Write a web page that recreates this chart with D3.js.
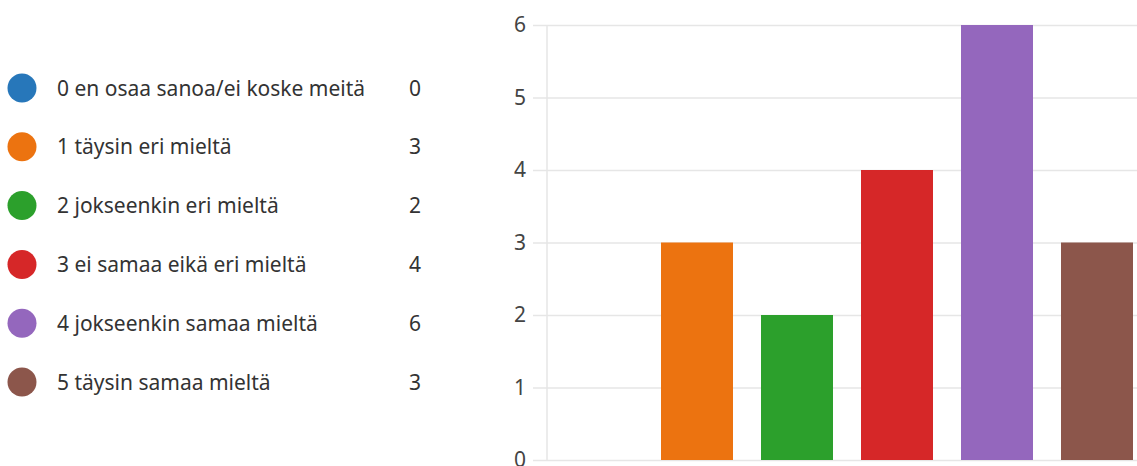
<!DOCTYPE html>
<html>
<head>
<meta charset="utf-8">
<script src="https://cdn.jsdelivr.net/npm/d3@7"></script>
<style>
  html, body { margin: 0; padding: 0; background: #fff; }
  svg { display: block; }
  text { font-family: "Segoe UI", "Noto Sans", "Open Sans", sans-serif; }
</style>
</head>
<body>
<svg id="chart" width="1137" height="466"></svg>
<script>
// Survey answers: response option, count and colour
const categories = [
  "0 en osaa sanoa/ei koske meitä",
  "1 täysin eri mieltä",
  "2 jokseenkin eri mieltä",
  "3 ei samaa eikä eri mieltä",
  "4 jokseenkin samaa mieltä",
  "5 täysin samaa mieltä"
];
const counts = [0, 3, 2, 4, 6, 3];
const colors = ["#2777ba", "#ec7310", "#2ca02c", "#d62728", "#9467bd", "#8c564b"];
const yTicks = [0, 1, 2, 3, 4, 5, 6];

const svg = d3.select("#chart");

// ---- Legend with counts ----
const legendY = d3.scalePoint().domain(categories).range([88, 382]);
const legend = svg.append("g");
const rows = legend.selectAll("g.row")
  .data(categories.map((c, i) => ({ c, v: counts[i], col: colors[i] })))
  .join("g")
  .attr("class", "row")
  .attr("transform", d => `translate(0,${legendY(d.c)})`);
rows.append("circle").attr("cx", 22).attr("cy", 0).attr("r", 14.5).attr("fill", d => d.col);
rows.append("text").attr("x", 57).attr("dy", "0.36em")
  .attr("font-size", 21).attr("fill", "#333").text(d => d.c);
rows.append("text").attr("x", 415).attr("dy", "0.36em").attr("text-anchor", "middle")
  .attr("font-size", 21).attr("fill", "#333").text(d => d.v);

// ---- Bar chart ----
const x = d3.scaleBand().domain(categories).range([547, 1147])
  .paddingInner(0.28).paddingOuter(0.14);
const y = d3.scaleLinear().domain([0, 6]).range([460, 25]);

// horizontal gridlines with tick labels
const yAxis = d3.axisLeft(y).tickValues(yTicks).tickFormat(d3.format("d"))
  .tickSize(-(1137 - 533)).tickPadding(7);
const gy = svg.append("g").attr("transform", "translate(533,0)").call(yAxis);
gy.select(".domain").remove();
gy.selectAll(".tick line").attr("stroke", "#e6e6e6").attr("stroke-width", 1.5)
  .attr("x1", 0).attr("x2", 1137 - 533);
gy.selectAll(".tick text").attr("font-size", 21).attr("fill", "#444")
  .attr("font-family", "\"Segoe UI\", \"Noto Sans\", sans-serif").attr("x", -7);

// vertical axis line
svg.append("line").attr("x1", 547).attr("x2", 547)
  .attr("y1", y(6)).attr("y2", y(0))
  .attr("stroke", "#e6e6e6").attr("stroke-width", 1.5);

// bars
svg.append("g").selectAll("rect")
  .data(categories.map((c, i) => ({ c, v: counts[i], col: colors[i] })))
  .join("rect")
  .attr("x", d => x(d.c))
  .attr("width", x.bandwidth())
  .attr("y", d => y(d.v))
  .attr("height", d => y(0) - y(d.v))
  .attr("fill", d => d.col);
</script>
</body>
</html>
